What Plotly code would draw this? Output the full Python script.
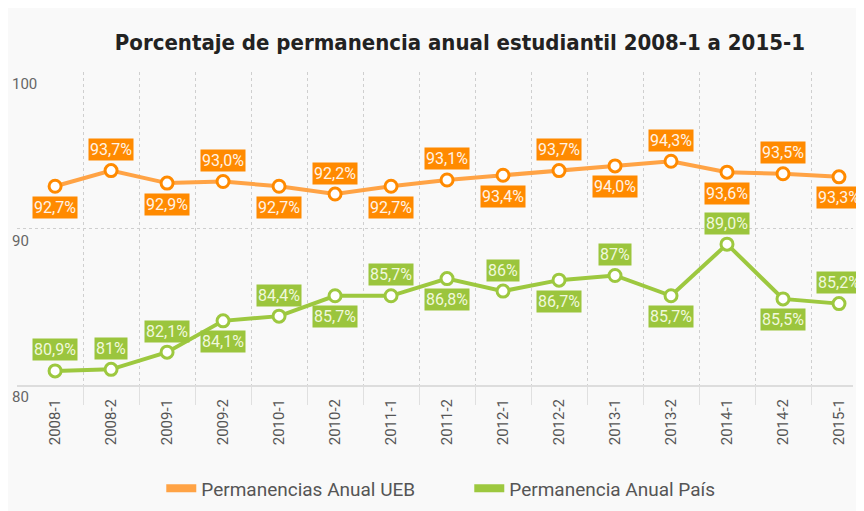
import plotly.graph_objects as go

categories = ["2008-1", "2008-2", "2009-1", "2009-2", "2010-1", "2010-2", "2011-1", "2011-2",
              "2012-1", "2012-2", "2013-1", "2013-2", "2014-1", "2014-2", "2015-1"]
ueb_values = [92.7, 93.7, 92.9, 93.0, 92.7, 92.2, 92.7, 93.1, 93.4, 93.7, 94.0, 94.3, 93.6, 93.5, 93.3]
ueb_labels = ["92,7%", "93,7%", "92,9%", "93,0%", "92,7%", "92,2%", "92,7%", "93,1%",
              "93,4%", "93,7%", "94,0%", "94,3%", "93,6%", "93,5%", "93,3%"]
pais_values = [80.9, 81.0, 82.1, 84.1, 84.4, 85.7, 85.7, 86.8, 86.0, 86.7, 87.0, 85.7, 89.0, 85.5, 85.2]
pais_labels = ["80,9%", "81%", "82,1%", "84,1%", "84,4%", "85,7%", "85,7%", "86,8%",
               "86%", "86,7%", "87%", "85,7%", "89,0%", "85,5%", "85,2%"]
# label placement: +1 above, -1 below
ueb_side = [-1, 1, -1, 1, -1, 1, -1, 1, -1, 1, -1, 1, -1, 1, -1]
pais_side = [1, 1, 1, -1, 1, -1, 1, -1, 1, -1, 1, -1, 1, -1, 1]
y_ticks = [80, 90, 100]
series_names = ["Permanencias Anual UEB", "Permanencia Anual País"]

ORANGE_LINE = "#FFA345"
ORANGE_DARK = "#FF8A00"
GREEN = "#9DC83F"
GREEN_LABEL = "#9BC53D"
FONT = "Roboto"

x_idx = list(range(len(categories)))

fig = go.Figure()
fig.add_trace(go.Scatter(
    x=x_idx, y=ueb_values, mode="lines+markers", showlegend=False,
    line=dict(color=ORANGE_LINE, width=4),
    marker=dict(size=12, color="white", line=dict(color=ORANGE_DARK, width=3)),
    hoverinfo="skip"))
fig.add_trace(go.Scatter(
    x=x_idx, y=pais_values, mode="lines+markers", showlegend=False,
    line=dict(color=GREEN, width=4),
    marker=dict(size=12, color="white", line=dict(color=GREEN, width=3)),
    hoverinfo="skip"))
# legend-only entries
fig.add_trace(go.Scatter(x=[None], y=[None], mode="lines", name=series_names[0],
                         line=dict(color=ORANGE_LINE, width=8)))
fig.add_trace(go.Scatter(x=[None], y=[None], mode="lines", name=series_names[1],
                         line=dict(color=GREEN, width=8)))

annotations = []
for i, (v, t, s) in enumerate(zip(ueb_values, ueb_labels, ueb_side)):
    annotations.append(dict(x=i, y=v, xref="x", yref="y", text=t, showarrow=False,
                            yshift=21 * s, bgcolor=ORANGE_DARK, borderpad=1,
                            font=dict(family=FONT, size=16, color="#FFF3E6")))
for i, (v, t, s) in enumerate(zip(pais_values, pais_labels, pais_side)):
    annotations.append(dict(x=i, y=v, xref="x", yref="y", text=t, showarrow=False,
                            yshift=21 * s, bgcolor=GREEN_LABEL, borderpad=1,
                            font=dict(family=FONT, size=16, color="#F0F8DC")))
for yt in y_ticks:
    annotations.append(dict(x=-0.008, y=yt, xref="paper", yref="y", text=str(yt),
                            showarrow=False, xanchor="left", yanchor="middle", yshift=-12,
                            font=dict(family=FONT, size=15, color="#666666")))

fig.update_layout(
    width=864, height=511,
    paper_bgcolor="#F9F9F9", plot_bgcolor="#F9F9F9",
    margin=dict(l=9, r=19, t=64, b=134),
    title=dict(text="<b>Porcentaje de permanencia anual estudiantil 2008-1 a 2015-1</b>",
               x=0.523, xanchor="center", y=0.933, yanchor="middle",
               font=dict(family="DejaVu Sans Condensed", size=22, color="#222222")),
    showlegend=True,
    legend=dict(orientation="h", x=0.541, xanchor="center", y=-0.33, yanchor="middle",
                font=dict(family=FONT, size=19, color="#555555"), bgcolor="rgba(0,0,0,0)",
                entrywidth=263, entrywidthmode="pixels"),
    annotations=annotations,
    xaxis=dict(
        range=[-0.68, 14.25], tickmode="array", tickvals=x_idx, ticktext=categories,
        tickangle=-90, showgrid=False, zeroline=False, ticks="",
        showline=True, linecolor="#DDDDDD", linewidth=2,
        tickfont=dict(family=FONT, size=15, color="#555555"),
        ticklabelstandoff=6,
        minor=dict(tickmode="array", tickvals=[i + 0.5 for i in range(len(categories) - 1)],
                   showgrid=True, gridcolor="#CFCFCF", griddash="dot", gridwidth=1,
                   ticks="outside", ticklen=18, tickcolor="#E0E0E0", tickwidth=1),
    ),
    yaxis=dict(
        range=[80, 100], tickmode="array", tickvals=y_ticks, showticklabels=False,
        showgrid=True, gridcolor="#CFCFCF", griddash="dot", gridwidth=1, zeroline=False,
    ),
)

fig.write_html("out.html")
